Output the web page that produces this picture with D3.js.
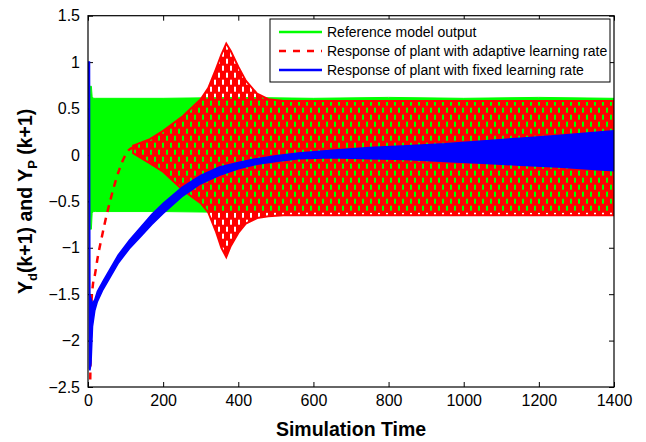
<!DOCTYPE html>
<html lang="en">
<head>
<meta charset="UTF-8">
<title>Plant response</title>
<script src="https://d3js.org/d3.v7.min.js"></script>
<style>
  body { margin: 0; background: #fff; }
  svg text { font-family: "Liberation Sans", Arial, Helvetica, sans-serif; fill: #000; }
</style>
</head>
<body>
<div id="chart"></div>
<script>
  // axis ticks
  const xTicks = [0, 200, 400, 600, 800, 1000, 1200, 1400];
  const yTicks = [-2.5, -2, -1.5, -1, -0.5, 0, 0.5, 1, 1.5];

  // reference model output: envelope of the fast oscillation
  const greenX  = [3, 6, 9, 11, 14, 20, 200, 400, 600, 800, 1000, 1200, 1400];
  const greenHi = [0.3, 0.74, 0.74, 0.63, 0.61, 0.61, 0.61, 0.62, 0.61, 0.62, 0.61, 0.62, 0.61];
  const greenLo = [-0.3, -0.8, -0.8, -0.63, -0.61, -0.61, -0.61, -0.62, -0.61, -0.62, -0.61, -0.62, -0.61];

  // adaptive learning rate: transient (dashed) then oscillating band
  const redLineX = [6, 9, 13, 18, 26, 36, 50, 60, 72, 84, 96, 108, 120];
  const redLineY = [-2.42, -1.62, -1.4, -1.3, -1.1, -0.9, -0.64, -0.48, -0.3, -0.15, -0.03, 0.05, 0.08];
  const redX  = [120, 165, 200, 253, 300, 320, 340, 355, 368, 380, 400, 420, 450, 480, 520, 800, 1100, 1400];
  const redHi = [0.1, 0.17, 0.26, 0.42, 0.6, 0.72, 0.92, 1.08, 1.2, 1.12, 0.95, 0.8, 0.66, 0.6, 0.58, 0.58, 0.58, 0.58];
  const redLo = [0.02, -0.09, -0.18, -0.38, -0.52, -0.62, -0.82, -1.0, -1.1, -0.98, -0.84, -0.74, -0.68, -0.66, -0.65, -0.65, -0.65, -0.65];

  // fixed learning rate band
  const blueX  = [2, 4, 5, 8, 12, 18, 25, 40, 60, 80, 110, 140, 170, 200, 250, 300, 350, 400, 450, 500, 560, 650, 750, 850, 950, 1050, 1150, 1250, 1400];
  const blueHi = [1.0, 1.0, -1.5, -1.55, -1.6, -1.56, -1.47, -1.36, -1.22, -1.08, -0.92, -0.78, -0.64, -0.52, -0.35, -0.22, -0.13, -0.08, -0.04, -0.01, 0.02, 0.05, 0.08, 0.1, 0.12, 0.15, 0.18, 0.21, 0.26];
  const blueLo = [1.0, -2.3, -2.32, -2.25, -1.85, -1.68, -1.58, -1.45, -1.31, -1.17, -1.01, -0.88, -0.75, -0.63, -0.45, -0.31, -0.22, -0.15, -0.1, -0.07, -0.04, -0.03, -0.04, -0.05, -0.07, -0.09, -0.11, -0.13, -0.17];

  const legendLabels = [
    "Reference model output",
    "Response of plant with adaptive learning rate",
    "Response of plant with fixed learning rate"
  ];

  let margin = {top: 15.7, right: 32, bottom: 55, left: 88},
      width = 646 - margin.left - margin.right,
      height = 442 - margin.top - margin.bottom;

  let root = d3.select('#chart')
    .append("svg")
      .attr("width", 646)
      .attr("height", 442);

  let defs = root.append("defs");
  defs.append("clipPath").attr("id", "plotClip")
    .append("rect").attr("width", width).attr("height", height);

  // red with small holes, imitates the dashed line drawn over itself
  let pat = defs.append("pattern")
    .attr("id", "redDash")
    .attr("patternUnits", "userSpaceOnUse")
    .attr("width", 8).attr("height", 14);
  [[0, 0, 8, 1], [0, 1, 2, 5], [4, 1, 4, 5], [0, 6, 8, 2], [0, 8, 6, 5], [8, 8, 0, 5], [0, 13, 8, 1]]
    .forEach(r => pat.append("rect")
      .attr("x", r[0]).attr("y", r[1]).attr("width", r[2]).attr("height", r[3])
      .attr("fill", "#ff0000"));

  let svg = root.append("g")
    .attr("transform", "translate(" + margin.left + "," + margin.top + ")");

  let x = d3.scaleLinear().domain([0, 1400]).range([0, width]);
  let y = d3.scaleLinear().domain([-2.5, 1.5]).range([height, 0]);

  let fmt = d3.format("~g");

  // axes, ticks pointing inward
  svg.append("g")
    .attr("transform", "translate(0," + height + ")")
    .call(d3.axisBottom(x).tickValues(xTicks).tickFormat(fmt).tickSizeInner(-5).tickSizeOuter(0).tickPadding(8))
    .call(g => g.select(".domain").remove())
    .selectAll("text").style("font-size", "16px");
  svg.append("g")
    .call(d3.axisLeft(y).tickValues(yTicks).tickFormat(fmt).tickSizeInner(-5).tickSizeOuter(0).tickPadding(8))
    .call(g => g.select(".domain").remove())
    .selectAll("text").style("font-size", "16px");
  svg.append("g")
    .call(d3.axisTop(x).tickValues(xTicks).tickFormat("").tickSizeInner(-5).tickSizeOuter(0))
    .call(g => g.select(".domain").remove());
  svg.append("g")
    .attr("transform", "translate(" + width + ",0)")
    .call(d3.axisRight(y).tickValues(yTicks).tickFormat("").tickSizeInner(-5).tickSizeOuter(0))
    .call(g => g.select(".domain").remove());

  let plot = svg.append("g").attr("clip-path", "url(#plotClip)");

  function band(xs, hi, lo) {
    return d3.area()
      .x(i => x(xs[i]))
      .y0(i => y(lo[i]))
      .y1(i => y(hi[i]))(d3.range(xs.length));
  }

  plot.append("path")
    .attr("d", band(greenX, greenHi, greenLo))
    .attr("fill", "#00ff00")
    .attr("stroke", "#00ff00")
    .attr("stroke-width", 1);

  plot.append("path")
    .datum(d3.range(redLineX.length))
    .attr("d", d3.line().curve(d3.curveMonotoneX).x(i => x(redLineX[i])).y(i => y(redLineY[i])))
    .attr("fill", "none")
    .attr("stroke", "#ff0000")
    .attr("stroke-width", 2.5)
    .attr("stroke-dasharray", "7,6");

  plot.append("path")
    .attr("d", band(redX, redHi, redLo))
    .attr("fill", "url(#redDash)")
    .attr("stroke", "#ff0000")
    .attr("stroke-width", 2);

  plot.append("path")
    .attr("d", band(blueX, blueHi, blueLo))
    .attr("fill", "#0000ff")
    .attr("stroke", "#0000ff")
    .attr("stroke-width", 1.5);

  // frame
  svg.append("rect")
    .attr("width", width).attr("height", height)
    .attr("fill", "none")
    .attr("stroke", "#000")
    .attr("stroke-width", 1.2);

  // legend
  let lg = root.append("g");
  lg.append("rect")
    .attr("x", 270).attr("y", 19).attr("width", 340).attr("height", 63)
    .attr("fill", "#fff").attr("stroke", "#000").attr("stroke-width", 1);
  let legendColors = ["#00ff00", "#ff0000", "#0000ff"];
  let legendDash = [null, "7,7", null];
  legendLabels.forEach((lab, i) => {
    let ly = 32 + i * 19;
    lg.append("line")
      .attr("x1", 279).attr("x2", 322).attr("y1", ly).attr("y2", ly)
      .attr("stroke", legendColors[i]).attr("stroke-width", 2.5)
      .attr("stroke-dasharray", legendDash[i]);
    lg.append("text")
      .attr("x", 327).attr("y", ly + 5)
      .style("font-size", "14px")
      .text(lab);
  });

  // axis titles
  root.append("text")
    .attr("x", margin.left + width / 2).attr("y", 436)
    .attr("text-anchor", "middle")
    .style("font-size", "19.5px").style("font-weight", "bold")
    .text("Simulation Time");

  let yl = root.append("text")
    .attr("transform", "translate(32," + (margin.top + height / 2) + ") rotate(-90)")
    .attr("text-anchor", "middle")
    .style("font-size", "19.5px").style("font-weight", "bold");
  yl.append("tspan").text("Y");
  yl.append("tspan").attr("dy", 5).style("font-size", "13px").text("d");
  yl.append("tspan").attr("dy", -5).text("(k+1) and Y");
  yl.append("tspan").attr("dy", 5).style("font-size", "13px").text("P");
  yl.append("tspan").attr("dy", -5).text(" (k+1)");
</script>
</body>
</html>
